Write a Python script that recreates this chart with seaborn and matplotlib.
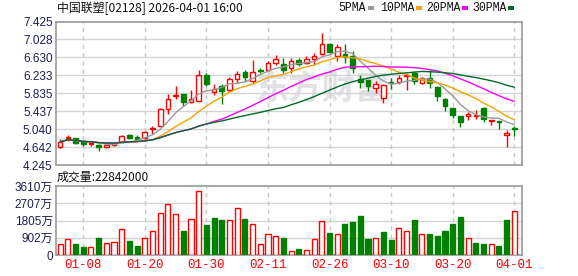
import numpy as np
import pandas as pd
import matplotlib
matplotlib.use("Agg")
import matplotlib.pyplot as plt
import seaborn as sns

# ---------------- data ----------------
dates = ["01-05", "01-06", "01-07", "01-08", "01-09", "01-12", "01-13", "01-14", "01-15", "01-16",
         "01-19", "01-20", "01-21", "01-22", "01-23", "01-26", "01-27", "01-28", "01-29", "01-30",
         "02-02", "02-03", "02-04", "02-05", "02-06", "02-09", "02-10", "02-11", "02-12", "02-13",
         "02-16", "02-20", "02-23", "02-24", "02-25", "02-26", "02-27", "03-02", "03-03", "03-04",
         "03-05", "03-06", "03-09", "03-10", "03-11", "03-12", "03-13", "03-16", "03-17", "03-18",
         "03-19", "03-20", "03-23", "03-24", "03-25", "03-26", "03-27", "03-30", "03-31", "04-01"]

opens = [4.644, 4.850, 4.841, 4.775, 4.716, 4.695, 4.644, 4.680, 4.753, 4.899,
         4.855, 4.841, 5.040, 5.118, 5.483, 5.780, 5.812, 5.644, 5.666, 6.250,
         5.863, 5.994, 5.899, 6.140, 6.301, 6.104, 6.350, 6.359, 6.505, 6.483,
         6.396, 6.578, 6.505, 6.593, 6.702, 6.929, 6.666, 6.702, 6.651, 6.140,
         6.118, 5.958, 5.739, 6.082, 6.082, 6.228, 6.286, 6.053, 6.177, 5.980,
         5.717, 5.505, 5.323, 5.323, 5.337, 5.498, 5.221, 5.213, 4.899, 5.075]
highs = [4.812, 4.899, 4.850, 4.780, 4.775, 4.710, 4.740, 4.735, 4.899, 4.935,
         4.913, 5.009, 5.118, 5.500, 5.812, 5.994, 5.820, 5.907, 6.360, 6.290,
         6.031, 6.031, 6.199, 6.323, 6.359, 6.578, 6.390, 6.542, 6.688, 6.615,
         6.615, 6.615, 6.651, 6.724, 7.177, 6.945, 6.929, 6.929, 6.761, 6.250,
         6.130, 6.104, 6.031, 6.170, 6.250, 6.286, 6.323, 6.199, 6.359, 5.990,
         5.730, 5.515, 5.330, 5.410, 5.469, 5.520, 5.250, 5.230, 5.023, 5.118]
lows = [4.630, 4.768, 4.720, 4.666, 4.666, 4.564, 4.620, 4.670, 4.745, 4.820,
        4.790, 4.826, 4.935, 5.100, 5.374, 5.700, 5.556, 5.630, 5.640, 5.994,
        5.790, 5.593, 5.863, 6.067, 6.104, 6.067, 6.290, 6.340, 6.469, 6.286,
        6.286, 6.440, 6.480, 6.469, 6.690, 6.724, 6.542, 6.505, 6.286, 5.958,
        5.885, 5.848, 5.629, 5.920, 6.031, 5.907, 6.031, 6.031, 5.958, 5.666,
        5.447, 5.286, 5.082, 5.250, 5.264, 5.191, 5.133, 5.045, 4.644, 4.885]
closes = [4.753, 4.863, 4.739, 4.717, 4.724, 4.651, 4.680, 4.730, 4.877, 4.841,
          4.826, 4.972, 5.060, 5.483, 5.702, 5.795, 5.644, 5.717, 6.250, 6.031,
          5.936, 5.885, 6.140, 6.272, 6.199, 6.308, 6.330, 6.505, 6.593, 6.359,
          6.542, 6.491, 6.593, 6.666, 6.929, 6.746, 6.856, 6.637, 6.396, 6.082,
          5.994, 6.031, 6.020, 6.053, 6.177, 6.250, 6.104, 6.177, 6.053, 5.775,
          5.542, 5.359, 5.206, 5.367, 5.352, 5.264, 5.235, 5.191, 4.950, 5.053]

# volume in 万 (10k shares)
volumes = [560, 820, 575, 400, 400, 890, 610, 660, 1340, 730,
           470, 870, 1240, 2180, 2650, 2130, 1255, 1865, 3330, 1570,
           1920, 1830, 1815, 2480, 1880, 1605, 560, 1080, 980, 890,
           190, 300, 260, 820, 1760, 1150, 1100, 1620, 1725, 2040,
           840, 870, 1200, 785, 1395, 1255, 1830, 1080, 1100, 995,
           1255, 1620, 1990, 870, 630, 575, 560, 470, 1830, 2284]
# 1 = up day (red hollow), 0 = down day (green filled)
volume_up = [1, 1, 0, 0, 1, 0, 1, 1, 1, 0,
             0, 1, 1, 1, 1, 1, 0, 1, 1, 0,
             0, 0, 1, 1, 0, 1, 1, 1, 1, 0,
             1, 0, 1, 1, 1, 0, 1, 0, 0, 0,
             0, 1, 0, 0, 1, 1, 0, 1, 0, 0,
             0, 0, 0, 1, 0, 0, 1, 0, 0, 1]

ma_windows = [5, 10, 20, 30]
ma_labels = ["5PMA", "10PMA", "20PMA", "30PMA"]
ma_colors = ["#9a9a9a", "#f5a300", "#ff00ff", "#006b2e"]

price_ticks = [4.245, 4.642, 5.040, 5.437, 5.835, 6.233, 6.630, 7.028, 7.425]
vol_ticks = [0, 902, 1805, 2707, 3610]
vol_tick_labels = ["0", "902万", "1805万", "2707万", "3610万"]
date_ticks = ["01-08", "01-20", "01-30", "02-11", "02-26", "03-10", "03-20", "04-01"]

title = "中国联塑[02128] 2026-04-01 16:00"
vol_title = "成交量:22842000"
watermark = "东方财富"

# ---------------- style ----------------
sns.set_style("white")
plt.rcParams["font.family"] = ["Liberation Sans", "Noto Sans CJK SC", "DejaVu Sans"]

RED = "#ff0000"
GREEN = "#008000"
FRAME = "#9a9a9a"
GRID = "#d4d4d4"
LABEL = "#1e1e50"

df = pd.DataFrame({"date": dates, "open": opens, "high": highs, "low": lows,
                   "close": closes, "vol": volumes, "vup": volume_up})
df["idx"] = np.arange(len(df))
for w in ma_windows:
    df[f"ma{w}"] = df["close"].rolling(w, min_periods=1).mean()

W, H = 578, 276
fig = plt.figure(figsize=(W / 100, H / 100), dpi=100)
left = 55.5 / W
width = (522 - 55.5) / W
ax = fig.add_axes([left, 1 - 165 / H, width, (165 - 21.5) / H])
axv = fig.add_axes([left, 1 - 255 / H, width, (255 - 186) / H])

xlim = (-0.6, len(df) - 0.0)
tick_pos = [dates.index(d) for d in date_ticks]

# watermark
ax.text(0.57, 0.52, watermark, transform=ax.transAxes, ha="center", va="center",
        fontsize=24, fontweight="bold", color="#e2e2e6", zorder=0,
        family=["Noto Sans CJK SC"])

# candles
up = df["close"] >= df["open"]
col = np.where(up, RED, GREEN)
ax.vlines(df["idx"], df["low"], df["high"], colors=col, linewidth=1, zorder=2)
body_bottom = np.minimum(df["open"], df["close"])
body_h = np.maximum(np.abs(df["close"] - df["open"]), 0.004)
ax.bar(df["idx"], body_h, bottom=body_bottom, width=0.6,
       facecolor=np.where(up, "white", GREEN), edgecolor=col, linewidth=1, zorder=3)

# moving averages
for w, c in zip(ma_windows, ma_colors):
    sns.lineplot(data=df, x="idx", y=f"ma{w}", ax=ax, color=c, linewidth=1, zorder=4)

ax.set_xlim(*xlim)
ax.set_ylim(price_ticks[0], price_ticks[-1])
ax.set_yticks(price_ticks)
ax.set_yticklabels([f"{t:.3f}" for t in price_ticks])
ax.set_xticks(tick_pos)
ax.set_xticklabels([])
ax.set_xlabel("")
ax.set_ylabel("")

# volume
vcol = np.where(df["vup"] == 1, RED, GREEN)
axv.bar(df["idx"], df["vol"], width=0.66,
        facecolor=np.where(df["vup"] == 1, "white", GREEN), edgecolor=vcol,
        linewidth=1, zorder=3)
axv.set_xlim(*xlim)
axv.set_ylim(0, vol_ticks[-1])
axv.set_yticks(vol_ticks)
axv.set_yticklabels(vol_tick_labels)
axv.set_xticks(tick_pos)
axv.set_xticklabels(date_ticks)

for a in (ax, axv):
    for s in a.spines.values():
        s.set_color(FRAME)
        s.set_linewidth(1.2)
    a.tick_params(axis="both", length=0, pad=2)
    a.tick_params(axis="y", labelsize=8.5, labelcolor=LABEL)
    for t in a.get_yticks()[1:-1]:
        a.axhline(t, color=GRID, linewidth=1, zorder=1)
    for p in tick_pos:
        a.axvline(p, color="#c8c8c8", linewidth=1, linestyle=(0, (3, 3)), zorder=1)
axv.tick_params(axis="x", labelsize=8.5, labelcolor=RED, pad=3)
for lab in axv.get_xticklabels():
    lab.set_family(["Liberation Mono", "DejaVu Sans Mono"])
    lab.set_fontsize(9)

# header texts
fig.text(57 / W, 1 - 8 / H, title, ha="left", va="center", fontsize=8.6,
         color="#111111", family=["Noto Sans CJK SC", "DejaVu Sans"])
fig.text(57 / W, 1 - 177 / H, vol_title, ha="left", va="center", fontsize=8.6,
         color="#111111", family=["Noto Sans CJK SC", "DejaVu Sans"])

legend_x = [338, 380, 426, 472]
for lbl, c, x0 in zip(ma_labels, ma_colors, legend_x):
    t = fig.text(x0 / W, 1 - 8 / H, lbl, ha="left", va="center", fontsize=8.3,
                 color="#111111", family=["Liberation Mono", "DejaVu Sans Mono"])
    fig.canvas.draw()
    bb = t.get_window_extent()
    x1 = bb.x1 + 2
    fig.patches.append(matplotlib.patches.Rectangle(
        (x1 / W, 1 - 9.5 / H), 6 / W, 3 / H, transform=fig.transFigure,
        facecolor=c, edgecolor="none"))

fig.savefig("out.png", dpi=100, facecolor="white")
